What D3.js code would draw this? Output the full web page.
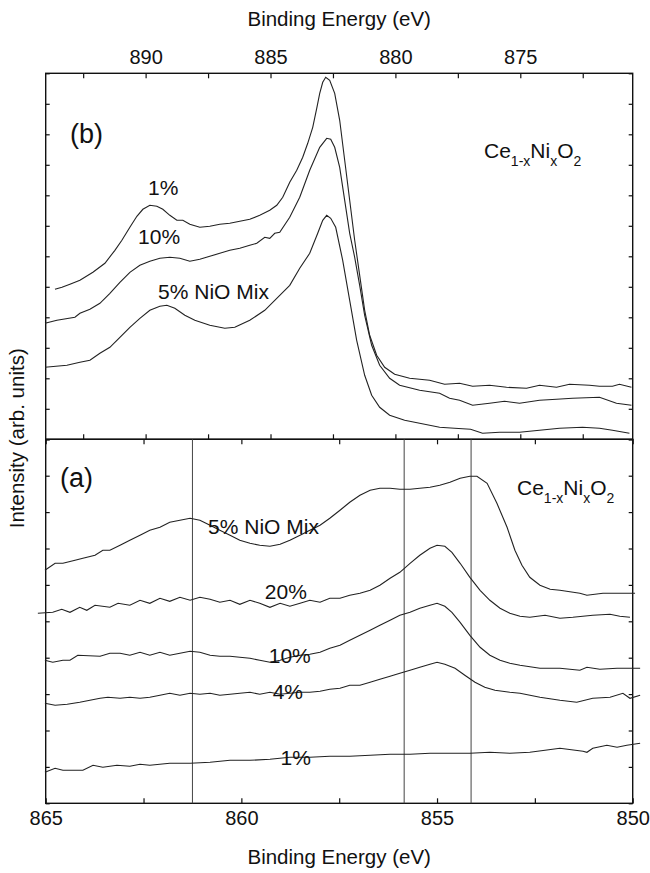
<!DOCTYPE html>
<html><head><meta charset="utf-8">
<script src="https://cdn.jsdelivr.net/npm/d3@7"></script>
<style>body{margin:0;background:#fff} svg{display:block} text{font-family:Arial,"Liberation Sans",Helvetica,sans-serif;fill:#111}</style>
</head><body><svg id="chart" width="650" height="873"></svg>
<script>
// ---------- DATA (energy in eV, intensity in arb. units) ----------
const topTicks = [892.5, 890, 887.5, 885, 882.5, 880, 877.5, 875, 872.5];
const topLabels = [890, 885, 880, 875];
const botTicks = [865, 862.5, 860, 857.5, 855, 852.5, 850];
const botLabels = [865, 860, 855, 850];
const refLines = [861.25, 855.84, 854.13];

const top1 = [[893.63,150],[893.35,152],[893.03,155],[892.63,159],[892.11,167],[891.63,176],[891.23,189],[890.95,199],[890.63,212],[890.35,223],[890.11,230],[889.83,234],[889.55,233],[889.31,230],[889.03,224],[888.75,219],[888.51,219],[888.23,215],[887.83,212],[887.43,213],[887.03,215],[886.63,216],[886.23,218],[885.83,220],[885.43,224],[885.03,229],[884.75,234],[884.51,242],[884.23,257],[883.95,269],[883.71,282],[883.51,296],[883.31,312],[883.15,331],[883.03,346],[882.91,357],[882.79,362],[882.63,359],[882.43,346],[882.23,319],[882.03,279],[881.83,239],[881.63,199],[881.43,164],[881.23,129],[881.03,104],[880.75,84],[880.43,72],[880.03,65],[879.43,61],[878.63,59],[878.03,55],[877.43,56],[876.91,53],[876.23,54],[875.55,52],[874.75,51],[874.23,54],[873.55,52],[873.03,55],[872.23,54],[871.83,53],[871.31,53],[871.03,55],[870.55,52]];
const top10 = [[894.03,116],[893.55,119],[892.83,122],[892.63,126],[892.23,130],[891.83,136],[891.43,146],[891.03,157],[890.63,167],[890.23,174],[889.83,178],[889.43,181],[889.03,182],[888.63,181],[888.23,178],[887.83,180],[887.43,183],[887.03,186],[886.63,189],[886.23,191],[885.83,194],[885.55,196],[885.23,202],[885.03,201],[884.83,206],[884.63,207],[884.23,222],[883.83,242],[883.43,269],[883.03,292],[882.75,301],[882.59,300],[882.43,292],[882.23,272],[882.03,239],[881.83,206],[881.63,182],[881.43,154],[881.23,124],[880.95,94],[880.63,74],[880.23,61],[879.83,54],[879.03,49],[878.23,46],[877.83,41],[877.43,39],[876.91,34],[876.23,36],[875.63,38],[875.03,36],[874.23,39],[873.55,40],[872.91,41],[871.83,42],[871.15,36],[870.55,34]];
const topMix = [[894.03,72],[893.15,74],[892.63,77],[892.23,79],[891.83,86],[891.43,92],[891.03,102],[890.63,112],[890.23,121],[889.83,129],[889.43,133],[889.15,134],[888.83,131],[888.43,124],[888.03,119],[887.43,114],[886.83,111],[886.43,112],[885.83,119],[885.23,129],[884.63,144],[884.23,154],[883.83,171],[883.43,186],[883.11,206],[882.91,219],[882.75,224],[882.59,221],[882.39,212],[882.11,179],[881.83,139],[881.55,99],[881.23,64],[880.95,44],[880.63,32],[880.23,24],[879.63,19],[879.03,16],[878.23,12],[877.63,11],[876.99,10],[876.51,6],[875.83,7],[875.03,7],[874.23,9],[873.43,11],[872.51,12],[871.83,11],[871.31,9],[870.63,6]];

const botMix = [[865.02,233],[864.76,240],[864.56,240],[864.25,243],[864.05,245],[863.74,248],[863.54,253],[863.36,253],[863.10,258],[862.85,263],[862.59,268],[862.34,273],[862.08,276],[861.83,281],[861.57,283],[861.31,285],[861.06,283],[860.80,278],[860.55,273],[860.29,268],[860.04,263],[859.78,260],[859.53,258],[859.27,257],[859.01,259],[858.76,263],[858.50,268],[858.25,273],[857.99,278],[857.74,285],[857.48,293],[857.23,301],[856.97,308],[856.71,313],[856.46,315],[856.20,315],[855.95,314],[855.69,314],[855.44,315],[855.18,316],[854.93,318],[854.67,321],[854.41,325],[854.16,327],[853.98,327],[853.72,320],[853.47,300],[853.21,276],[853.01,253],[852.83,238],[852.63,226],[852.37,218],[852.11,214],[851.86,213],[851.35,210],[851.17,208],[850.76,210],[850.15,210],[849.94,210]];
const bot20 = [[865.20,190],[864.82,191],[864.59,194],[864.38,191],[864.13,196],[863.95,193],[863.74,198],[863.36,196],[863.15,200],[862.85,198],[862.59,203],[862.34,200],[862.08,205],[861.83,202],[861.57,206],[861.31,203],[861.06,206],[860.80,204],[860.55,201],[860.29,203],[860.04,199],[859.78,203],[859.53,200],[859.27,196],[859.01,200],[858.76,197],[858.50,200],[858.25,203],[857.99,201],[857.74,205],[857.48,205],[857.23,208],[856.97,210],[856.71,213],[856.46,218],[856.20,225],[855.95,231],[855.69,240],[855.44,248],[855.18,255],[855.00,258],[854.80,257],[854.62,251],[854.41,240],[854.16,226],[853.90,213],[853.65,203],[853.39,195],[853.14,190],[852.88,187],[852.63,186],[852.24,188],[851.86,185],[851.53,186],[851.02,188],[850.58,189],[850.33,187],[850.07,186]];
const bot10 = [[865.02,143],[864.82,141],[864.56,143],[864.38,143],[864.18,148],[863.61,147],[863.36,150],[863.10,150],[862.85,148],[862.59,151],[862.34,148],[862.08,151],[861.83,148],[861.57,150],[861.31,152],[861.06,151],[860.80,148],[860.55,147],[860.29,147],[860.04,146],[859.78,145],[859.53,143],[859.27,141],[859.01,143],[858.76,146],[858.50,148],[858.25,149],[857.99,151],[857.74,155],[857.48,158],[857.23,163],[856.97,168],[856.71,173],[856.46,178],[856.20,183],[855.95,188],[855.69,191],[855.44,195],[855.18,198],[855.00,200],[854.80,197],[854.62,191],[854.41,181],[854.16,168],[853.90,156],[853.65,148],[853.39,143],[853.14,140],[852.88,138],[852.37,135],[851.86,135],[851.35,133],[851.17,136],[850.84,134],[850.40,135],[849.81,135]];
const bot4 = [[865.02,100],[864.76,98],[864.45,99],[864.13,101],[863.87,103],[863.61,105],[863.41,106],[863.10,105],[862.85,106],[862.59,105],[862.34,106],[862.08,108],[861.83,110],[861.57,108],[861.31,110],[861.06,109],[860.80,110],[860.55,108],[860.29,109],[860.04,110],[859.78,111],[859.53,109],[859.27,111],[859.01,109],[858.76,110],[858.50,111],[858.25,111],[857.99,112],[857.74,114],[857.48,115],[857.23,118],[856.97,118],[856.71,121],[856.46,124],[856.20,127],[855.95,130],[855.69,133],[855.44,136],[855.18,139],[855.00,141],[854.80,139],[854.54,135],[854.29,128],[854.03,121],[853.78,116],[853.52,113],[853.14,111],[852.88,110],[852.37,106],[851.86,103],[851.43,101],[851.02,105],[850.58,106],[850.25,110],[850.07,105],[849.81,108]];
const bot1 = [[865.02,31],[864.76,35],[864.56,33],[864.05,33],[863.79,38],[863.54,36],[863.18,38],[862.85,37],[862.59,39],[862.34,38],[861.83,40],[861.31,40],[860.80,41],[860.29,43],[859.78,43],[859.27,44],[858.76,46],[858.25,46],[857.74,47],[857.23,47],[856.71,48],[856.20,49],[855.69,49],[855.18,50],[854.67,50],[854.16,50],[853.65,51],[853.14,50],[852.63,51],[852.24,53],[851.86,55],[851.27,52],[851.17,51],[851.02,55],[850.66,58],[850.40,56],[850.15,58],[849.81,60]];

const topSeries = [top1, top10, topMix];
const botSeries = [botMix, bot20, bot10, bot4, bot1];
const topText = [{t:"1%", e:889.9, v:244}, {t:"10%", e:890.3, v:195}, {t:"5% NiO Mix", e:889.5, v:140}];
const botText = [{t:"5% NiO Mix", e:860.85, v:269}, {t:"20%", e:859.4, v:204}, {t:"10%", e:859.3, v:140}, {t:"4%", e:859.2, v:104}, {t:"1%", e:859.0, v:38}];

// ---------- LAYOUT ----------
const svg = d3.select("#chart");
const L = 45.7, R = 632.7, T = 73.3, M = 439.3, B = 803.3;
const xTop = d3.scaleLinear().domain([894, 870.5]).range([L, R]);
const xBot = d3.scaleLinear().domain([865, 850]).range([L, R]);
const yTop = d3.scaleLinear().domain([0, 366]).range([M, T]);
const yBot = d3.scaleLinear().domain([0, 364]).range([B, M]);
const fs = 20;

function styleAxis(g){
  g.selectAll(".domain").remove();
  g.selectAll(".tick line").attr("stroke","#111").attr("stroke-width",1.2);
  g.selectAll(".tick text").attr("font-size",fs).attr("fill","#111")
   .attr("font-family",'Arial,"Liberation Sans",sans-serif');
}
const fmt = labels => d => labels.includes(d) ? String(d) : "";

svg.append("g").attr("transform",`translate(0,${T})`)
  .call(d3.axisTop(xTop).tickValues(topTicks).tickSizeInner(-5).tickSizeOuter(0).tickPadding(9).tickFormat(fmt(topLabels))).call(styleAxis);
svg.append("g").attr("transform",`translate(0,${M})`)
  .call(d3.axisBottom(xTop).tickValues(topTicks).tickSizeInner(-5).tickSizeOuter(0).tickFormat(()=>"")).call(styleAxis);
svg.append("g").attr("transform",`translate(0,${M})`)
  .call(d3.axisTop(xBot).tickValues(botTicks).tickSizeInner(-5).tickSizeOuter(0).tickFormat(()=>"")).call(styleAxis);
svg.append("g").attr("transform",`translate(0,${B})`)
  .call(d3.axisBottom(xBot).tickValues(botTicks).tickSizeInner(-5).tickSizeOuter(0).tickPadding(8).tickFormat(fmt(botLabels))).call(styleAxis);
const yTopTicks = d3.range(0, 13).map(i => i * 366 / 12);
const yBotTicks = d3.range(0, 11).map(i => i * 364 / 10);
svg.append("g").attr("transform",`translate(${L},0)`).call(d3.axisLeft(yTop).tickValues(yTopTicks).tickSizeInner(-4).tickSizeOuter(0).tickFormat(()=>"")).call(styleAxis);
svg.append("g").attr("transform",`translate(${R},0)`).call(d3.axisRight(yTop).tickValues(yTopTicks).tickSizeInner(-4).tickSizeOuter(0).tickFormat(()=>"")).call(styleAxis);
svg.append("g").attr("transform",`translate(${L},0)`).call(d3.axisLeft(yBot).tickValues(yBotTicks).tickSizeInner(-4).tickSizeOuter(0).tickFormat(()=>"")).call(styleAxis);
svg.append("g").attr("transform",`translate(${R},0)`).call(d3.axisRight(yBot).tickValues(yBotTicks).tickSizeInner(-4).tickSizeOuter(0).tickFormat(()=>"")).call(styleAxis);

svg.append("rect").attr("x",L).attr("y",T).attr("width",R-L).attr("height",M-T).attr("fill","none").attr("stroke","#111").attr("stroke-width",1.4);
svg.append("rect").attr("x",L).attr("y",M).attr("width",R-L).attr("height",B-M).attr("fill","none").attr("stroke","#111").attr("stroke-width",1.4);

svg.selectAll(".ref").data(refLines).join("line")
  .attr("x1",d=>xBot(d)).attr("x2",d=>xBot(d)).attr("y1",M).attr("y2",B)
  .attr("stroke","#444").attr("stroke-width",1);

const lineTop = d3.line().x(d=>xTop(d[0])).y(d=>yTop(d[1]));
const lineBot = d3.line().x(d=>xBot(d[0])).y(d=>yBot(d[1]));
svg.selectAll(".ct").data(topSeries).join("path").attr("d",lineTop)
  .attr("fill","none").attr("stroke","#222").attr("stroke-width",1.1);
svg.selectAll(".cb").data(botSeries).join("path").attr("d",lineBot)
  .attr("fill","none").attr("stroke","#222").attr("stroke-width",1.1);

svg.selectAll(".lt").data(topText).join("text").attr("x",d=>xTop(d.e)).attr("y",d=>yTop(d.v)).attr("font-size",21).text(d=>d.t);
svg.selectAll(".lb").data(botText).join("text").attr("x",d=>xBot(d.e)).attr("y",d=>yBot(d.v)).attr("font-size",21).text(d=>d.t);

svg.append("text").attr("x",70).attr("y",143).attr("font-size",27).text("(b)");
svg.append("text").attr("x",60).attr("y",487).attr("font-size",27).text("(a)");

function formula(x, y){
  const t = svg.append("text").attr("x",x).attr("y",y).attr("font-size",21);
  const parts = [["Ce",0],["1-x",1],["Ni",0],["x",1],["O",0],["2",1]];
  let sub = false;
  parts.forEach(([s,isSub])=>{
    const ts = t.append("tspan").text(s);
    if(isSub && !sub){ ts.attr("dy",8).attr("font-size",14); sub=true; }
    else if(isSub){ ts.attr("font-size",14); }
    else if(!isSub && sub){ ts.attr("dy",-8); sub=false; }
  });
}
formula(484, 158);
formula(517, 495);

svg.append("text").attr("x",(L+R)/2).attr("y",26).attr("text-anchor","middle").attr("font-size",20.5).text("Binding Energy (eV)");
svg.append("text").attr("x",(L+R)/2).attr("y",864).attr("text-anchor","middle").attr("font-size",20.5).text("Binding Energy (eV)");
svg.append("text").attr("transform",`translate(24,${(T+B)/2}) rotate(-90)`).attr("text-anchor","middle").attr("font-size",20.5).text("Intensity (arb. units)");
</script></body></html>
